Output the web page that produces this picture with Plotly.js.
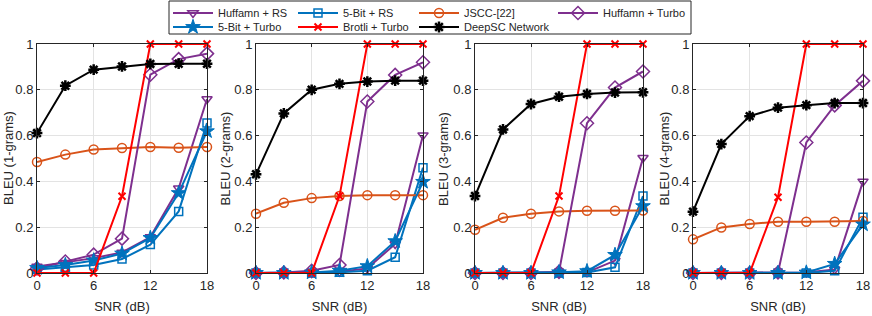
<!DOCTYPE html>
<html>
<head>
<meta charset="utf-8">
<script src="https://cdn.plot.ly/plotly-3.0.1.min.js"></script>
<style>html,body{margin:0;padding:0;background:#fff}#chart{width:872px;height:316px}</style>
</head>
<body>
<div id="chart"></div>
<script>
// ---- data ----
const snr = [0, 3, 6, 9, 12, 15, 18];
const seriesNames = ['Huffamn + RS', '5-Bit + RS', 'JSCC-[22]', 'Huffamn + Turbo', '5-Bit + Turbo', 'Brotli + Turbo', 'DeepSC Network'];
const yTitles = ['BLEU (1-grams)', 'BLEU (2-grams)', 'BLEU (3-grams)', 'BLEU (4-grams)'];
const xTitle = 'SNR (dB)';
const xTickVals = [0, 6, 12, 18];

// 1-grams
const huffRS_1    = [0.028, 0.045, 0.065, 0.09, 0.157, 0.37, 0.76];
const bitRS_1     = [0.015, 0.025, 0.035, 0.061, 0.124, 0.269, 0.655];
const jscc_1      = [0.485, 0.517, 0.539, 0.546, 0.55, 0.547, 0.55];
const huffTurbo_1 = [0.02, 0.05, 0.08, 0.15, 0.866, 0.934, 0.958];
const bitTurbo_1  = [0.022, 0.035, 0.055, 0.085, 0.153, 0.349, 0.619];
const brotli_1    = [0, 0, 0, 0.335, 1, 1, 1];
const deepsc_1    = [0.611, 0.818, 0.888, 0.902, 0.913, 0.914, 0.914];
// 2-grams
const huffRS_2    = [0, 0, 0, 0.005, 0.02, 0.127, 0.602];
const bitRS_2     = [0, 0, 0, 0.003, 0.01, 0.069, 0.46];
const jscc_2      = [0.259, 0.307, 0.327, 0.336, 0.34, 0.34, 0.34];
const huffTurbo_2 = [0, 0.002, 0.01, 0.035, 0.749, 0.865, 0.92];
const bitTurbo_2  = [0, 0, 0.002, 0.01, 0.03, 0.139, 0.398];
const brotli_2    = [0, 0, 0, 0.336, 1, 1, 1];
const deepsc_2    = [0.431, 0.697, 0.8, 0.826, 0.836, 0.84, 0.84];
// 3-grams
const huffRS_3    = [0, 0, 0, 0, 0.003, 0.054, 0.503];
const bitRS_3     = [0, 0, 0, 0, 0.002, 0.025, 0.336];
const jscc_3      = [0.189, 0.241, 0.259, 0.269, 0.272, 0.272, 0.273];
const huffTurbo_3 = [0, 0, 0, 0.005, 0.654, 0.81, 0.88];
const bitTurbo_3  = [0, 0, 0, 0.003, 0.008, 0.079, 0.292];
const brotli_3    = [0, 0, 0, 0.336, 1, 1, 1];
const deepsc_3    = [0.336, 0.627, 0.738, 0.77, 0.782, 0.788, 0.789];
// 4-grams
const huffRS_4    = [0, 0, 0, 0, 0.002, 0.015, 0.4];
const bitRS_4     = [0, 0, 0, 0, 0, 0.01, 0.243];
const jscc_4      = [0.147, 0.199, 0.214, 0.224, 0.224, 0.224, 0.227];
const huffTurbo_4 = [0, 0, 0, 0.002, 0.57, 0.732, 0.839];
const bitTurbo_4  = [0, 0, 0, 0, 0.002, 0.04, 0.212];
const brotli_4    = [0, 0, 0, 0.331, 1, 1, 1];
const deepsc_4    = [0.268, 0.563, 0.685, 0.722, 0.733, 0.742, 0.742];

const panels = [
  [huffRS_1, bitRS_1, jscc_1, huffTurbo_1, bitTurbo_1, brotli_1, deepsc_1],
  [huffRS_2, bitRS_2, jscc_2, huffTurbo_2, bitTurbo_2, brotli_2, deepsc_2],
  [huffRS_3, bitRS_3, jscc_3, huffTurbo_3, bitTurbo_3, brotli_3, deepsc_3],
  [huffRS_4, bitRS_4, jscc_4, huffTurbo_4, bitTurbo_4, brotli_4, deepsc_4]
];

// ---- styles ----
const styles = [
  {color: '#7E2F8E', symbol: 'triangle-down-open', size: 9, mlw: 1.5, lw: 2, legend: 'legend', lwid: 70},
  {color: '#0072BD', symbol: 'square-open', size: 8, mlw: 1.5, lw: 2, legend: 'legend', lwid: 66},
  {color: '#D95319', symbol: 'circle-open', size: 9, mlw: 1.5, lw: 2, legend: 'legend', lwid: 84},
  {color: '#7E2F8E', symbol: 'diamond-open', size: 10, mlw: 1.5, lw: 2, legend: 'legend', lwid: null},
  {color: '#0072BD', symbol: 'star', size: 11, mlw: 1, lw: 2, legend: 'legend2', lwid: 70},
  {color: '#FF0000', symbol: 'x-thin-open', size: 7, mlw: 2, lw: 2, legend: 'legend2', lwid: 66},
  {color: '#000000', symbol: 'asterisk-open', size: 9, mlw: 2.5, lw: 2, legend: 'legend2', lwid: 84}
];

const domains = [[37, 207], [256, 423], [475, 643], [693, 863]];
const yTitleCenters = [8.5, 225, 443.5, 664];
const W = 872;
const plotBottom = 273, plotH = 229;

const traces = [];
panels.forEach((series, p) => {
  series.forEach((vals, s) => {
    const st = styles[s];
    const t = {
      type: 'scatter', mode: 'lines+markers',
      x: snr, y: vals, name: seriesNames[s],
      xaxis: p === 0 ? 'x' : 'x' + (p + 1),
      yaxis: p === 0 ? 'y' : 'y' + (p + 1),
      line: {color: st.color, width: st.lw},
      marker: {symbol: st.symbol, size: st.size, color: st.color, line: {color: st.color, width: st.mlw}},
      cliponaxis: false,
      showlegend: p === 0,
      legend: st.legend,
      hoverinfo: 'skip'
    };
    if (st.lwid) t.legendwidth = st.lwid;
    traces.push(t);
  });
});

const font = {family: '"Liberation Sans", Arial, sans-serif', color: '#262626'};
const legendBase = {orientation: 'h', x: 168 / W, xanchor: 'left', yanchor: 'middle',
  bgcolor: 'rgba(0,0,0,0)', borderwidth: 0, itemwidth: 40, tracegroupgap: 0,
  font: Object.assign({size: 11}, font), itemclick: false, itemdoubleclick: false};

const layout = {
  width: 872, height: 316,
  margin: {l: 0, r: 0, t: 44, b: 43, autoexpand: false},
  paper_bgcolor: '#ffffff', plot_bgcolor: '#ffffff',
  font: Object.assign({size: 13}, font),
  showlegend: true,
  legend: Object.assign({}, legendBase, {y: (plotBottom - 13) / plotH}),
  legend2: Object.assign({}, legendBase, {y: (plotBottom - 27) / plotH}),
  shapes: [{type: 'rect', xref: 'paper', yref: 'paper',
            x0: 169 / W, x1: 691 / W, y0: (plotBottom - 34) / plotH, y1: (plotBottom - 1) / plotH,
            line: {color: '#262626', width: 1}, fillcolor: 'rgba(0,0,0,0)'}],
  annotations: yTitles.map((txt, i) => ({
    text: txt, xref: 'paper', yref: 'paper', x: yTitleCenters[i] / W, y: 0.5,
    xanchor: 'center', yanchor: 'middle', textangle: -90, showarrow: false,
    font: Object.assign({size: 13}, font)
  }))
};

domains.forEach((d, i) => {
  const xk = i === 0 ? 'xaxis' : 'xaxis' + (i + 1);
  const yk = i === 0 ? 'yaxis' : 'yaxis' + (i + 1);
  const yid = i === 0 ? 'y' : 'y' + (i + 1);
  const xid = i === 0 ? 'x' : 'x' + (i + 1);
  layout[xk] = {
    domain: [d[0] / W, d[1] / W], anchor: yid, range: [0, 18],
    tickvals: xTickVals, ticktext: xTickVals.map(String),
    showline: true, linecolor: '#262626', linewidth: 1, mirror: 'allticks',
    ticks: 'inside', ticklen: 3, tickcolor: '#262626',
    showgrid: true, gridcolor: '#e3e3e3', gridwidth: 1, zeroline: false,
    tickfont: Object.assign({size: 13}, font),
    title: {text: xTitle, font: Object.assign({size: 13}, font), standoff: 10},
    fixedrange: true
  };
  layout[yk] = {
    domain: [0, 1], anchor: xid, range: [0, 1], dtick: 0.2, tick0: 0,
    showline: true, linecolor: '#262626', linewidth: 1, mirror: 'allticks',
    ticks: 'inside', ticklen: 3, tickcolor: '#262626',
    showgrid: true, gridcolor: '#e3e3e3', gridwidth: 1, zeroline: false,
    tickfont: Object.assign({size: 13}, font),
    fixedrange: true
  };
});

Plotly.newPlot('chart', traces, layout, {displayModeBar: false, staticPlot: true});
</script>
</body>
</html>
